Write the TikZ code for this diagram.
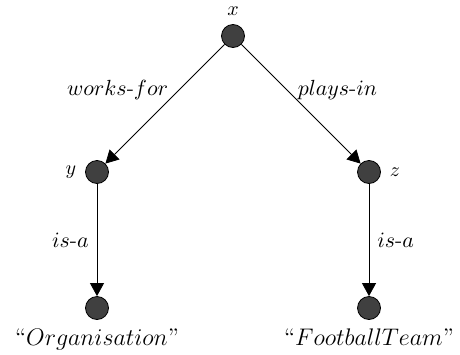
\documentclass[tikz,border=0pt]{standalone}
\usepackage{amsmath}
\usepackage{amssymb}
\usetikzlibrary{arrows.meta}
\usetikzlibrary{positioning}

\begin{document}
\begin{tikzpicture}[%
x={(0.5pt,0pt)},
y={(0pt,-0.5pt)},
vertex/.style={circle,minimum size=11.5pt,inner sep=0pt,fill=black!75,draw=black,thin},
edge/.style={-{Triangle[length=6.5pt,width=7pt]},thin},
elabel/.style={font=\fontsize{11}{13}\selectfont,inner sep=0pt},
]
\useasboundingbox (0,0) rectangle (460,354);

%Knoten
\node[vertex](X) at (233,36){};
\node[vertex](Y) at (97,172){};
\node[vertex](Z) at (369,172){};
\node[vertex](O) at (97,308){};
\node[vertex](F) at (369,308){};
\node[above= 1pt of X](Xl){$x$};
\node[left= 1pt of Y](Yl){$y$};
\node[right= 1pt of Z](Zl){$z$};
\node[below= 1pt of O,font=\large](Ol){``$Organisation$''};
\node[below= 1pt of F,font=\large](Fl){``$FootballTeam$''};

%Kanten
\draw[edge] (X) -- (Y) node[elabel,pos=0.47,above left]{$works$-$for$};
\draw[edge] (X) -- (Z) node[elabel,pos=0.47,above right]{$plays$-$in$};
\draw[edge] (Y) -- (O) node[elabel,midway,left=4pt]{$is$-$a$};
\draw[edge] (Z) -- (F) node[elabel,midway,right=4pt]{$is$-$a$};

\end{tikzpicture}
\end{document}
